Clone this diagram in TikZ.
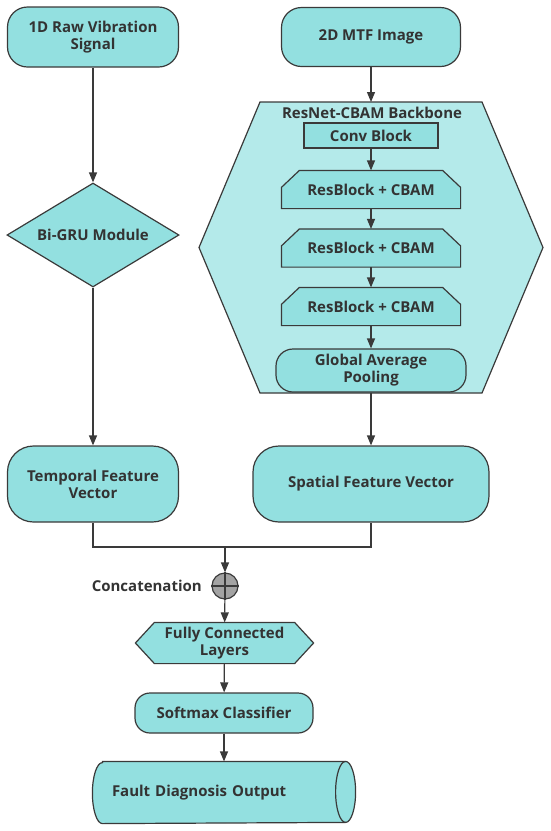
\documentclass[tikz,border=0pt]{standalone}
\usepackage{fontspec}
\setmainfont{Open Sans}
\usepackage{xcolor}
\usetikzlibrary{shapes.geometric,arrows.meta,positioning,calc,backgrounds}
\definecolor{boxfill}{HTML}{93E0E0}
\definecolor{bbfill}{HTML}{B4EAEA}
\definecolor{edgec}{HTML}{3A3A3A}
\definecolor{txtc}{HTML}{333333}
\definecolor{sumfill}{HTML}{A3A3A3}
\tikzset{
  base/.style  = {draw=edgec, line width=1.2pt, fill=boxfill, text=txtc, align=center,
                  font=\bfseries\fontsize{15}{17}\selectfont, inner sep=2pt},
  term/.style  = {base, rectangle, rounded corners=20pt},
  dec/.style   = {base, diamond, aspect=1.65, inner sep=0pt},
  blkr/.style  = {base, rectangle},
  cham/.style  = {base, rectangle, draw=none, fill=none},
  lbl/.style   = {base, draw=none, fill=none, inner sep=0pt},
  sumn/.style  = {circle, draw=edgec, line width=1.2pt, fill=sumfill, minimum size=26pt, inner sep=0pt},
  fl/.style    = {-{Triangle[length=10pt,width=8pt]}, line width=1.2pt, edgec},
  ln/.style    = {line width=1.2pt, edgec},
}
\begin{document}
\begin{tikzpicture}[x=1pt, y=-1pt, node distance=22pt]
  \useasboundingbox (0,0) rectangle (550,831);
  \node[term, minimum width=171pt, minimum height=60pt] (raw) at (93,37) {1D Raw Vibration\\Signal};
  \node[dec, minimum width=172pt, minimum height=104pt] (gru) at (93,235) {Bi-GRU Module};
  \node[term, rounded corners=26pt, minimum width=171pt, minimum height=76pt] (tfv) at (93,484) {Temporal Feature\\Vector};
  \node[term, minimum width=179pt, minimum height=59pt] (mtf) at (371,37) {2D MTF Image};
  \coordinate (bbtop) at (371,102);
  \node[lbl] (bbt) at (372,113) {ResNet-CBAM Backbone};
  \node[blkr, minimum width=134pt, minimum height=25pt] (conv) at (371,135.5) {Conv Block};
  \node[cham, minimum width=178pt, minimum height=37pt] (rb1) at (371,189.5) {ResBlock + CBAM};
  \node[cham, minimum width=178pt, minimum height=37pt] (rb2) at (371,248) {ResBlock + CBAM};
  \node[cham, minimum width=178pt, minimum height=37pt] (rb3) at (371,306.5) {ResBlock + CBAM};
  \node[term, rounded corners=17pt, minimum width=190pt, minimum height=43pt] (gap) at (371,370.5) {Global Average\\Pooling};
  \node[term, rounded corners=26pt, minimum width=236pt, minimum height=76pt] (sfv) at (371,484) {Spatial Feature Vector};
  \coordinate (jn) at (225,547);
  \node[sumn] (cat) at (225,586) {};
  \node[lbl, left=9pt of cat] (catl) {Concatenation};
  \node[cham, minimum width=177pt, minimum height=40pt] (fc) at (224.5,643) {Fully Connected\\Layers};
  \node[term, rounded corners=15pt, minimum width=178pt, minimum height=40pt] (sm) at (224,713) {Softmax Classifier};
  \node[cham, minimum width=262pt, minimum height=61pt, text width=224pt, align=left, inner xsep=19pt] (out) at (224,792.5) {Fault Diagnosis Output};
  \begin{scope}[on background layer]
    \draw[ln, fill=bbfill] (199,247.5) -- (260,102) -- (482,102) -- (543,247.5) -- (482,393) -- (260,393) -- cycle;
    \foreach \n in {rb1,rb2,rb3}
      \draw[ln, fill=boxfill] (\n.south west) -- ([yshift=-17pt]\n.north west) -- ([xshift=18pt]\n.north west)
        -- ([xshift=-18pt]\n.north east) -- ([yshift=-17pt]\n.north east) -- (\n.south east) -- cycle;
    \draw[ln, fill=boxfill] (fc.west) -- ([xshift=19pt]fc.north west) -- ([xshift=-19pt]fc.north east)
      -- (fc.east) -- ([xshift=-19pt]fc.south east) -- ([xshift=19pt]fc.south west) -- cycle;
    \draw[ln, fill=boxfill] ([xshift=10pt]out.north west) -- ([xshift=-10pt]out.north east)
      arc[start angle=90, end angle=-90, x radius=10pt, y radius=30.5pt]
      -- ([xshift=10pt]out.south west) arc[start angle=270, end angle=90, x radius=10pt, y radius=30.5pt] -- cycle;
    \draw[ln] ([xshift=-10pt]out.north east) arc[start angle=90, end angle=270, x radius=10pt, y radius=30.5pt];
  \end{scope}
  \draw[fl] (raw) -- (gru);
  \draw[fl] (gru) -- (tfv);
  \draw[fl] (mtf) -- (bbtop);
  \draw[fl] (conv) -- (rb1);
  \draw[fl] (rb1) -- (rb2);
  \draw[fl] (rb2) -- (rb3);
  \draw[fl] (rb3) -- (gap);
  \draw[fl] (gap) -- (sfv);
  \draw[ln] (tfv.south) |- (jn) -| (sfv.south);
  \draw[fl] (jn) -- (cat);
  \draw[ln] (cat.north) -- (cat.south) (cat.west) -- (cat.east);
  \draw[fl] (cat) -- (fc);
  \draw[fl] (fc) -- (sm);
  \draw[fl] (sm) -- (out);
\end{tikzpicture}
\end{document}
